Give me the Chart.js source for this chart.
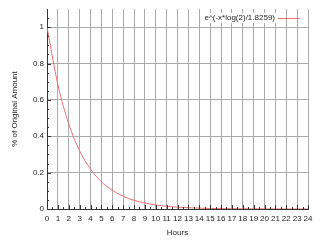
<!DOCTYPE html>
<html><head><meta charset="utf-8">
<script src="https://cdn.jsdelivr.net/npm/chart.js@4/dist/chart.umd.min.js"></script>
<style>html,body{margin:0;padding:0;background:#fff}#wrap{width:320px;height:240px}</style>
</head><body><div id="wrap"><canvas id="c" width="320" height="240"></canvas></div>
<script>
const hours = [0,1,2,3,4,5,6,7,8,9,10,11,12,13,14,15,16,17,18,19,20,21,22,23,24];
const amount = [1,0.684,0.468,0.320,0.219,0.150,0.103,0.070,0.048,0.033,0.022,0.015,0.010,0.007,0.005,0.003,0.002,0.0016,0.001,0.0007,0.0005,0.0003,0.0002,0.0002,0.0001];
const seriesLabel = 'e^(-x*log(2)/1.8259)';
const xTitle = 'Hours';
const yTitle = '% of Original Amount';

const FONT = {family:'"Liberation Sans", Arial, sans-serif', size:8};
const minorTicks = {
  id:'minorTicks',
  afterDatasetsDraw(chart){
    const ctx = chart.ctx, x = chart.scales.x, y = chart.scales.y;
    ctx.save(); ctx.strokeStyle = '#333'; ctx.lineWidth = 1;
    ctx.beginPath();
    for (let v = 0; v <= 24.001; v += 0.5) {
      const px = Math.round(x.getPixelForValue(v)) + 0.5;
      const len = Math.abs(v - Math.round(v)) < 1e-6 ? 4 : 2;
      ctx.moveTo(px, y.bottom); ctx.lineTo(px, y.bottom - len);
    }
    for (let v = 0; v <= 1.1; v += 0.05) {
      const py = Math.round(y.getPixelForValue(v)) + 0.5;
      const r = Math.round(v * 100) % 20 === 0;
      ctx.moveTo(x.left, py); ctx.lineTo(x.left + (r ? 4 : 2), py);
    }
    ctx.stroke(); ctx.restore();
  }
};
const insideLegend = {
  id:'insideLegend',
  afterDatasetsDraw(chart){
    const ctx = chart.ctx, ds = chart.data.datasets[0], a = chart.chartArea;
    const lineEnd = a.right - 8, lineStart = lineEnd - 22, ty = a.top + 9;
    ctx.save();
    ctx.font = FONT.size + 'px ' + FONT.family;
    ctx.fillStyle = '#222'; ctx.textAlign = 'right'; ctx.textBaseline = 'middle';
    const tw = ctx.measureText(ds.label).width;
    ctx.fillStyle = '#fff'; ctx.fillRect(lineStart - 3 - tw - 1, ty - 5, tw + 2, 10);
    ctx.fillStyle = '#222';
    ctx.fillText(ds.label, lineStart - 3, ty);
    ctx.strokeStyle = ds.borderColor; ctx.lineWidth = 1;
    ctx.beginPath(); ctx.moveTo(lineStart, Math.round(ty) + 0.5); ctx.lineTo(lineEnd, Math.round(ty) + 0.5); ctx.stroke();
    ctx.restore();
  }
};

new Chart(document.getElementById('c'), {
  type:'line',
  data:{ datasets:[{
    label: seriesLabel,
    data: hours.map((h,i)=>({x:h, y:amount[i]})),
    borderColor:'#f07070', backgroundColor:'#f07070', borderWidth:1,
    pointRadius:0, cubicInterpolationMode:'monotone', fill:false
  }]},
  options:{
    responsive:false, animation:false, devicePixelRatio:1,
    layout:{padding:{top:9, right:12, left:0, bottom:0}},
    plugins:{ tooltip:{enabled:false}, legend:{display:false} },
    scales:{
      x:{type:'linear', min:0, max:24,
        afterFit(s){ s.height = 31; },
        ticks:{stepSize:1, color:'#222', font:FONT, padding:5, maxRotation:0, autoSkip:false},
        grid:{color:'#aaaaaa', drawTicks:false},
        border:{color:'#333'},
        title:{display:true, text:xTitle, color:'#222', font:FONT, padding:{top:0, bottom:2}}
      },
      y:{type:'linear', min:0, max:1.1,
        afterFit(s){ s.width = 47; },
        ticks:{stepSize:0.2, includeBounds:false, color:'#222', font:FONT, padding:3,
          callback:v => String(Math.round(v*10)/10)},
        grid:{color:'#aaaaaa', drawTicks:false},
        border:{color:'#333'},
        title:{display:true, text:yTitle, color:'#222', font:FONT, padding:{top:10, bottom:0}}
      }
    }
  },
  plugins:[minorTicks, insideLegend]
});
</script></body></html>
